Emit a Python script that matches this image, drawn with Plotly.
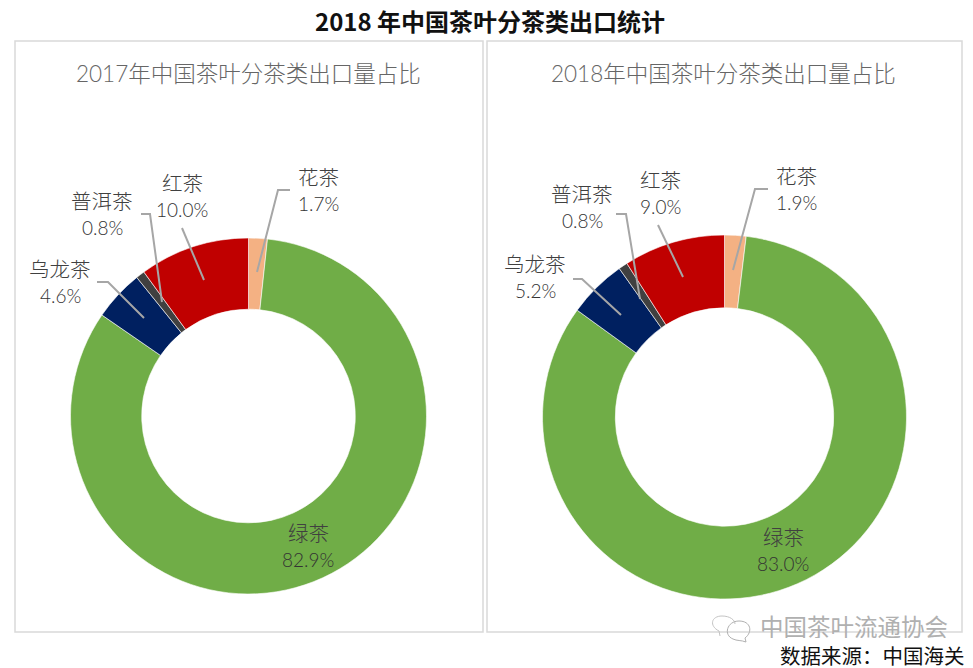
import plotly.graph_objects as go

categories = ["花茶", "绿茶", "乌龙茶", "普洱茶", "红茶"]
values_2017 = [1.7, 82.9, 4.6, 0.8, 10.0]
values_2018 = [1.9, 83.0, 5.2, 0.8, 9.0]
colors = ["#F4B183", "#70AD47", "#002060", "#404040", "#C00000"]
title = "2018 年中国茶叶分茶类出口统计"
sub_2017 = "2017年中国茶叶分茶类出口量占比"
sub_2018 = "2018年中国茶叶分茶类出口量占比"
watermark = "中国茶叶流通协会"
source = "数据来源：中国海关"

W, H = 973, 668
FONT = "Noto Sans CJK SC"
MIXED = "Lato, 'Noto Sans CJK SC'"
LABEL = "#404040"
LEADER = "#A6A6A6"


def pie(vals, cx, cy, r):
    return go.Pie(
        labels=categories, values=vals, sort=False, direction="clockwise", rotation=0,
        hole=0.6, textinfo="none", hoverinfo="label+percent", showlegend=False,
        marker=dict(colors=colors, line=dict(color="rgba(255,255,255,0.75)", width=0.8)),
        domain=dict(x=[(cx - r) / W, (cx + r) / W], y=[1 - (cy + r) / H, 1 - (cy - r) / H]),
    )


fig = go.Figure()
fig.add_trace(pie(values_2017, 248.5, 416, 178))
fig.add_trace(pie(values_2018, 724.5, 417, 182))
fig.add_trace(go.Scatter(x=[], y=[], xaxis="x", yaxis="y", showlegend=False))

shapes = []
for x0, x1 in [(15, 483), (487, 962)]:
    shapes.append(dict(type="rect", x0=x0, x1=x1, y0=41, y1=632, layer="below",
                       line=dict(color="#D9D9D9", width=1.5), fillcolor="white"))

leaders = [
    "M 290 190 L 278 190 L 257 272",
    "M 97 282 L 108 282 L 144 318",
    "M 141 214 L 150 214 L 162 302",
    "M 182 228 L 204 280",
    "M 768 189 L 755 189 L 733 270",
    "M 573 279 L 582 279 L 621 315",
    "M 616 214 L 626 214 L 640 299",
    "M 658 225 L 683 277",
]
for p in leaders:
    shapes.append(dict(type="path", path=p, line=dict(color=LEADER, width=2)))

# WeChat mark beside the watermark
shapes.append(dict(type="path", path="M 720 636 L 719 631 C 709 626 711 616 722 616 C 730 616 735 620 735 624",
                   line=dict(color="#C4C4C4", width=1)))
shapes.append(dict(type="path", path="M 746 642 L 745 638 C 753 632 751 621 739 621 C 727 621 723 635 733 639 C 737 641 741 640 746 642 Z",
                   line=dict(color="#B0B0B0", width=1)))

annots = []


def text(x, y, s, size, color=LABEL, bold=False, family=FONT, weight=None, height=None):
    f = dict(family=family, size=size, color=color)
    if weight:
        f["weight"] = weight
    a = dict(x=x, y=y, text=f"<b>{s}</b>" if bold else s, showarrow=False,
             xanchor="center", yanchor="middle", font=f)
    if height:
        a["height"] = height
    annots.append(a)


def pair(x, y, name, val, dy=27):
    text(x, y, name, 20.5, weight=300)
    text(x, y + dy, f"{val:.1f}%", 19, color="#333333", family="Lato", weight=300)


text(490, 20, title, 24, "#111111", True)
text(248, 73, sub_2017, 22.5, "#666666", family=MIXED, weight=300)
text(723, 73, sub_2018, 22.5, "#666666", family=MIXED, weight=300)

positions_2017 = [(318, 176), (308, 532), (60, 268), (102, 200), (182, 182)]
positions_2018 = [(796, 175), (783, 536), (535, 263), (582, 193), (660, 179)]
for (x, y), n, v in zip(positions_2017, categories, values_2017):
    pair(x, y, n, v)
for (x, y), n, v in zip(positions_2018, categories, values_2018):
    pair(x, y, n, v)

text(854, 626, watermark, 23.5, "#B0B0B0", height=24)
text(872, 655, source, 20.5, "#111111", height=22)

fig.update_layout(
    width=W, height=H, margin=dict(l=0, r=0, t=0, b=0), autosize=False,
    paper_bgcolor="white", plot_bgcolor="rgba(0,0,0,0)",
    font=dict(family=FONT),
    xaxis=dict(range=[0, W], visible=False, domain=[0, 1], fixedrange=True),
    yaxis=dict(range=[H, 0], visible=False, domain=[0, 1], fixedrange=True),
    shapes=shapes, annotations=annots,
)
fig.write_html("out.html", post_script="document.body.style.margin='0';document.documentElement.style.overflow='hidden';",
               config={"displayModeBar": False})
